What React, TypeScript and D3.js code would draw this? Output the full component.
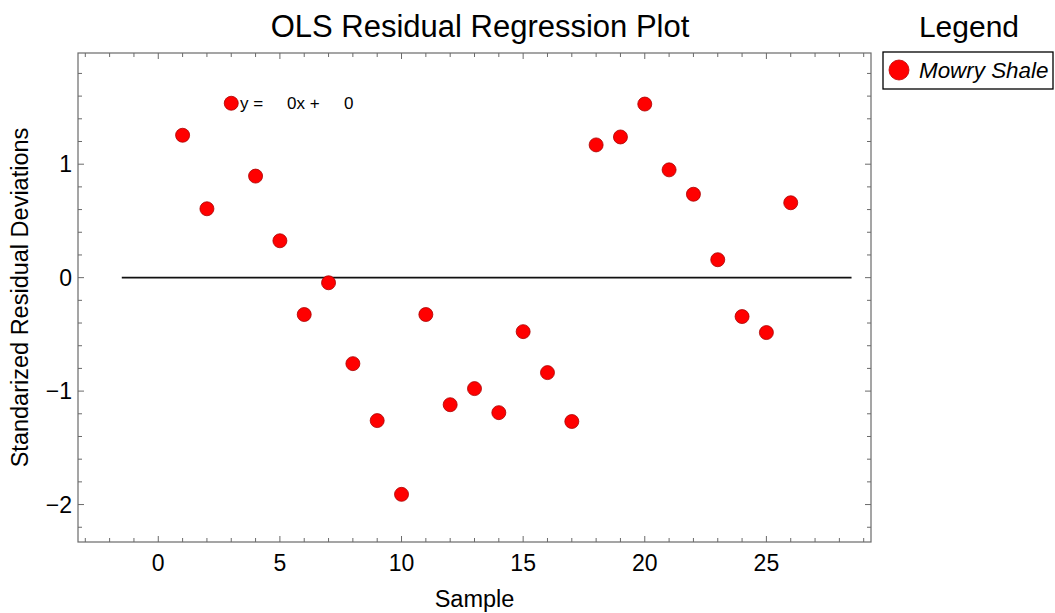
import React from "react";
import * as d3 from "d3";

const samples = [1,2,3,4,5,6,7,8,9,10,11,12,13,14,15,16,17,18,19,20,21,22,23,24,25,26];
const residuals = [1.255,0.607,1.537,0.895,0.325,-0.325,-0.045,-0.758,-1.26,-1.91,-0.325,-1.12,-0.978,-1.19,-0.476,-0.837,-1.268,1.17,1.24,1.53,0.95,0.735,0.158,-0.343,-0.484,0.66];
const xMajorTicks = [0,5,10,15,20,25];
const yMajorTicks = [-2,-1,0,1];
const seriesName = "Mowry Shale";
const fitLine = [-1.5, 28.5];

const W = 1055, H = 613;
const L = 78, R = 871, T = 53, B = 542;
const FONT = "Liberation Sans, Arial, Helvetica, sans-serif";

export default function App() {
  const x = d3.scaleLinear().domain([-3.3, 29.3]).range([L, R]);
  const y = d3.scaleLinear().domain([-2.33, 1.98]).range([B, T]);
  const xMinor = d3.range(-3, 30, 1).filter(v => !xMajorTicks.includes(v));
  const yMinor = d3.range(-2.2, 1.99, 0.2).map(v => Math.round(v * 10) / 10).filter(v => !yMajorTicks.includes(v));
  const frame = "#6a6a6a";
  const fmt = (v: number) => (v < 0 ? "\u2212" + Math.abs(v) : String(v));
  const p3 = residuals[2];
  return (
    <svg width={W} height={H} style={{ position: "absolute", left: 0, top: 0 }} fontFamily={FONT}>
      <rect x={0} y={0} width={W} height={H} fill="#fff" />
      <text x={480} y={37} textAnchor="middle" fontSize={31}>OLS Residual Regression Plot</text>
      {xMajorTicks.map(v => (
        <g key={"xM" + v}>
          <line x1={x(v)} x2={x(v)} y1={B} y2={B - 6} stroke={frame} />
          <line x1={x(v)} x2={x(v)} y1={T} y2={T + 6} stroke={frame} />
          <text x={x(v)} y={571} textAnchor="middle" fontSize={23}>{fmt(v)}</text>
        </g>
      ))}
      {xMinor.map(v => (
        <g key={"xm" + v}>
          <line x1={x(v)} x2={x(v)} y1={B} y2={B - 4} stroke={frame} />
          <line x1={x(v)} x2={x(v)} y1={T} y2={T + 4} stroke={frame} />
        </g>
      ))}
      {yMajorTicks.map(v => (
        <g key={"yM" + v}>
          <line x1={L} x2={L + 6} y1={y(v)} y2={y(v)} stroke={frame} />
          <line x1={R} x2={R - 6} y1={y(v)} y2={y(v)} stroke={frame} />
          <text x={72} y={y(v) + 8} textAnchor="end" fontSize={23}>{fmt(v)}</text>
        </g>
      ))}
      {yMinor.map(v => (
        <g key={"ym" + v}>
          <line x1={L} x2={L + 4} y1={y(v)} y2={y(v)} stroke={frame} />
          <line x1={R} x2={R - 4} y1={y(v)} y2={y(v)} stroke={frame} />
        </g>
      ))}
      <rect x={L} y={T} width={R - L} height={B - T} fill="none" stroke={frame} strokeWidth={1.2} />
      <line x1={x(fitLine[0])} x2={x(fitLine[1])} y1={y(0)} y2={y(0)} stroke="#111" strokeWidth={1.6} />
      <text y={y(p3) + 6} fontSize={17}>
        <tspan x={240}>y =</tspan>
        <tspan x={287}>0x +</tspan>
        <tspan x={344}>0</tspan>
      </text>
      {samples.map((s, i) => (
        <circle key={s} cx={x(s)} cy={y(residuals[i])} r={7} fill="#ff0000" stroke="#a80000" strokeWidth={0.8} />
      ))}
      <text x={22} y={(T + B) / 2} transform={`rotate(-90, 22, ${(T + B) / 2})`} textAnchor="middle" dominantBaseline="middle" fontSize={23.5}>Standarized Residual Deviations</text>
      <text x={(L + R) / 2} y={607} textAnchor="middle" fontSize={23.5}>Sample</text>
      <text x={969} y={37} textAnchor="middle" fontSize={30}>Legend</text>
      <rect x={883} y={52} width={170} height={37} fill="#fff" stroke="#000" strokeWidth={1.3} />
      <circle cx={899} cy={70} r={10} fill="#ff0000" stroke="#c00000" strokeWidth={0.8} />
      <text x={919} y={78} fontSize={22.4} fontStyle="italic">{seriesName}</text>
    </svg>
  );
}
